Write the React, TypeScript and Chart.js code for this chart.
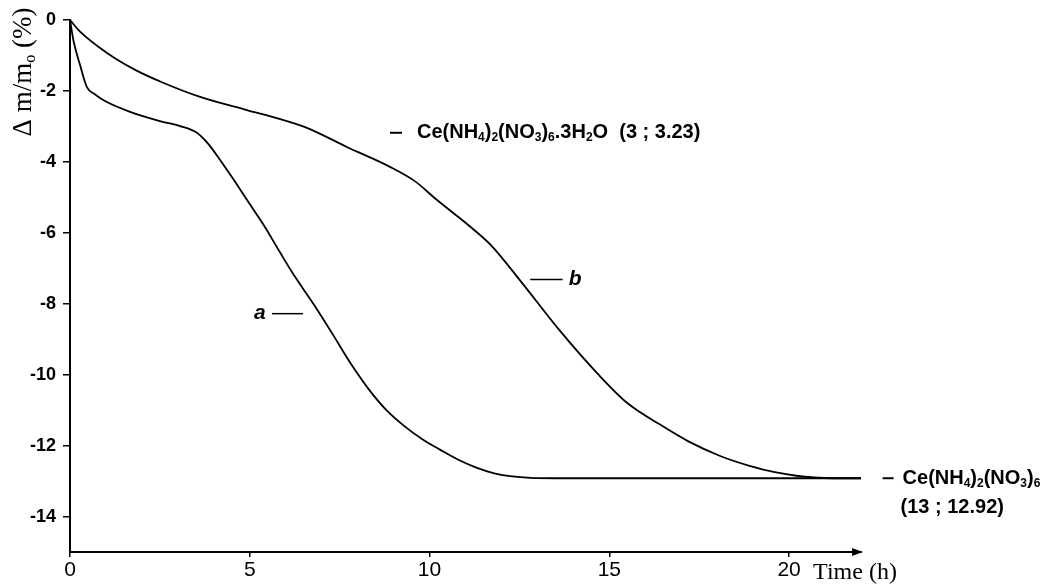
import { useEffect, useRef } from "react";
import { Chart, registerables } from "chart.js";

Chart.register(...registerables);

// Curve a
const timeA = [0, 0.1, 0.28, 0.47, 0.7, 1.0, 1.67, 2.5, 3.06, 3.53, 3.85, 4.17, 4.55, 4.92, 5.4, 5.84, 6.2, 6.8, 7.3, 7.79, 8.3, 8.8, 9.3, 9.8, 10.3, 10.8, 11.3, 11.8, 12.3, 12.8, 13.5, 16, 19, 22];
const massA = [0, -0.6, -1.27, -1.89, -2.1, -2.3, -2.59, -2.85, -2.99, -3.18, -3.5, -3.94, -4.5, -5.07, -5.8, -6.55, -7.15, -8.05, -8.85, -9.66, -10.4, -11.0, -11.45, -11.82, -12.12, -12.4, -12.62, -12.78, -12.87, -12.91, -12.92, -12.92, -12.92, -12.92];

// Curve b
const timeB = [0, 0.28, 1.03, 1.8, 2.59, 3.62, 4.92, 5.8, 6.59, 7.7, 8.9, 9.6, 10.2, 11.1, 11.7, 12.5, 13.6, 14.7, 15.5, 16.4, 17.2, 18.1, 18.9, 19.6, 20.2, 20.7, 21.2, 22];
const massB = [0, -0.33, -0.93, -1.4, -1.77, -2.17, -2.54, -2.78, -3.04, -3.58, -4.14, -4.55, -5.07, -5.8, -6.34, -7.32, -8.73, -10.0, -10.8, -11.4, -11.88, -12.3, -12.57, -12.75, -12.85, -12.9, -12.92, -12.92];

const xTickValues = [0, 5, 10, 15, 20];
const yTickValues = [0, -2, -4, -6, -8, -10, -12, -14];
const xRange = [0, 22];
const yRange = [-15, 0];

const xAxisTitle = "Time (h)";
type Seg = { t: string; sub?: boolean };
const yAxisTitle: Seg[] = [{ t: "Δ m/m" }, { t: "o", sub: true }, { t: " (%)" }];
const labelHydrate: Seg[] = [
  { t: "Ce(NH" }, { t: "4", sub: true }, { t: ")" }, { t: "2", sub: true },
  { t: "(NO" }, { t: "3", sub: true }, { t: ")" }, { t: "6", sub: true },
  { t: ".3H" }, { t: "2", sub: true }, { t: "O  (3 ; 3.23)" },
];
const labelAnhydrous: Seg[] = [
  { t: "Ce(NH" }, { t: "4", sub: true }, { t: ")" }, { t: "2", sub: true },
  { t: "(NO" }, { t: "3", sub: true }, { t: ")" }, { t: "6", sub: true },
];
const labelAnhydrousValue = "(13 ; 12.92)";
const curveLabelA = "a";
const curveLabelB = "b";

const SANS = "'Liberation Sans', Arial, Helvetica, sans-serif";
const NARROW = "'Liberation Sans Narrow', 'Liberation Sans', Arial, sans-serif";
const SERIF = "'Liberation Serif', 'Times New Roman', serif";

function drawRich(ctx: CanvasRenderingContext2D, x: number, y: number, segs: Seg[], size: number, weight: string, family: string) {
  let cx = x;
  for (const s of segs) {
    const fs = s.sub ? Math.round(size * 0.6) : size;
    ctx.font = `${weight} ${fs}px ${family}`;
    ctx.fillText(s.t, cx, s.sub ? y + size * 0.25 : y);
    cx += ctx.measureText(s.t).width;
  }
  return cx - x;
}
function richWidth(ctx: CanvasRenderingContext2D, segs: Seg[], size: number, weight: string, family: string) {
  let w = 0;
  for (const s of segs) {
    const fs = s.sub ? Math.round(size * 0.6) : size;
    ctx.font = `${weight} ${fs}px ${family}`;
    w += ctx.measureText(s.t).width;
  }
  return w;
}

const decorPlugin = {
  id: "decor",
  afterDraw(chart: any) {
    const ctx: CanvasRenderingContext2D = chart.ctx;
    const xs = chart.scales.x;
    const ys = chart.scales.y;
    ctx.save();
    ctx.fillStyle = "#000";
    ctx.strokeStyle = "#000";
    ctx.textBaseline = "middle";
    ctx.textAlign = "left";

    // arrow at end of x axis
    const ay = ys.bottom;
    const ax = xs.right;
    ctx.beginPath();
    ctx.moveTo(ax + 2, ay);
    ctx.lineTo(ax - 9, ay - 4);
    ctx.lineTo(ax - 9, ay + 4);
    ctx.closePath();
    ctx.fill();

    // x title
    ctx.font = `24px ${SERIF}`;
    ctx.fillText(xAxisTitle, xs.getPixelForValue(20) + 24, ay + 21);

    // y title
    ctx.save();
    ctx.translate(24, 72);
    ctx.rotate(-Math.PI / 2);
    const tw = richWidth(ctx, yAxisTitle, 27, "normal", SERIF);
    drawRich(ctx, -tw / 2, 0, yAxisTitle, 27, "normal", SERIF);
    ctx.restore();

    ctx.lineWidth = 2;
    // hydrate label
    let px = xs.getPixelForValue(8.9);
    let py = ys.getPixelForValue(-3.18);
    ctx.beginPath(); ctx.moveTo(px, py); ctx.lineTo(px + 12, py); ctx.stroke();
    drawRich(ctx, px + 27, py, labelHydrate, 20, "bold", SANS);

    // anhydrous label
    px = xs.getPixelForValue(22.6);
    py = ys.getPixelForValue(-12.92);
    ctx.beginPath(); ctx.moveTo(px, py); ctx.lineTo(px + 11, py); ctx.stroke();
    drawRich(ctx, px + 20, py, labelAnhydrous, 20, "bold", SANS);
    ctx.font = `bold 20px ${SANS}`;
    ctx.fillText(labelAnhydrousValue, xs.getPixelForValue(23.1), ys.getPixelForValue(-13.75));

    // curve labels
    ctx.lineWidth = 1.5;
    py = ys.getPixelForValue(-8.28);
    ctx.beginPath(); ctx.moveTo(xs.getPixelForValue(5.62), py); ctx.lineTo(xs.getPixelForValue(6.48), py); ctx.stroke();
    ctx.font = `italic bold 21px ${SANS}`;
    ctx.textAlign = "center";
    ctx.fillText(curveLabelA, xs.getPixelForValue(5.28), py);
    py = ys.getPixelForValue(-7.32);
    ctx.beginPath(); ctx.moveTo(xs.getPixelForValue(12.8), py); ctx.lineTo(xs.getPixelForValue(13.7), py); ctx.stroke();
    ctx.fillText(curveLabelB, xs.getPixelForValue(14.05), py);
    ctx.restore();
  },
};

export default function App() {
  const ref = useRef<HTMLCanvasElement | null>(null);
  useEffect(() => {
    document.body.style.margin = "0";
    const canvas = ref.current;
    if (!canvas) return;
    const chart = new Chart(canvas, {
      type: "line",
      data: {
        datasets: [
          {
            label: "a",
            data: timeA.map((t, i) => ({ x: t, y: massA[i] })),
            borderColor: "#000",
            borderWidth: 1.8,
            pointRadius: 0,
            fill: false,
            cubicInterpolationMode: "monotone",
          },
          {
            label: "b",
            data: timeB.map((t, i) => ({ x: t, y: massB[i] })),
            borderColor: "#000",
            borderWidth: 1.8,
            pointRadius: 0,
            fill: false,
            cubicInterpolationMode: "monotone",
          },
        ],
      },
      options: {
        animation: false,
        responsive: false,
        maintainAspectRatio: false,
        layout: { padding: { top: 20, right: 184, left: 0, bottom: 0 } },
        plugins: { legend: { display: false }, tooltip: { enabled: false } },
        scales: {
          x: {
            type: "linear",
            min: xRange[0],
            max: xRange[1],
            afterBuildTicks: (s: any) => { s.ticks = xTickValues.map((v) => ({ value: v })); },
            afterFit: (s: any) => { s.height = 33; },
            grid: { display: true, drawOnChartArea: false, drawTicks: true, tickLength: 5, color: "#000", lineWidth: 1.5 },
            border: { display: true, color: "#000", width: 2 },
            ticks: { color: "#000", font: { family: NARROW, size: 21 }, padding: 1, maxRotation: 0, autoSkip: false },
          },
          y: {
            type: "linear",
            min: yRange[0],
            max: yRange[1],
            afterBuildTicks: (s: any) => { s.ticks = yTickValues.map((v) => ({ value: v })); },
            afterFit: (s: any) => { s.width = 70; },
            grid: { display: true, drawOnChartArea: false, drawTicks: true, tickLength: 7, color: "#000", lineWidth: 1.5 },
            border: { display: true, color: "#000", width: 2 },
            ticks: { color: "#000", font: { family: SANS, size: 18, weight: "bold" }, padding: 7, autoSkip: false },
          },
        },
      },
      plugins: [decorPlugin],
    } as any);
    return () => chart.destroy();
  }, []);
  return (
    <div style={{ width: 1045, height: 585 }}>
      <canvas ref={ref} width={1045} height={585} style={{ display: "block" }} />
    </div>
  );
}
